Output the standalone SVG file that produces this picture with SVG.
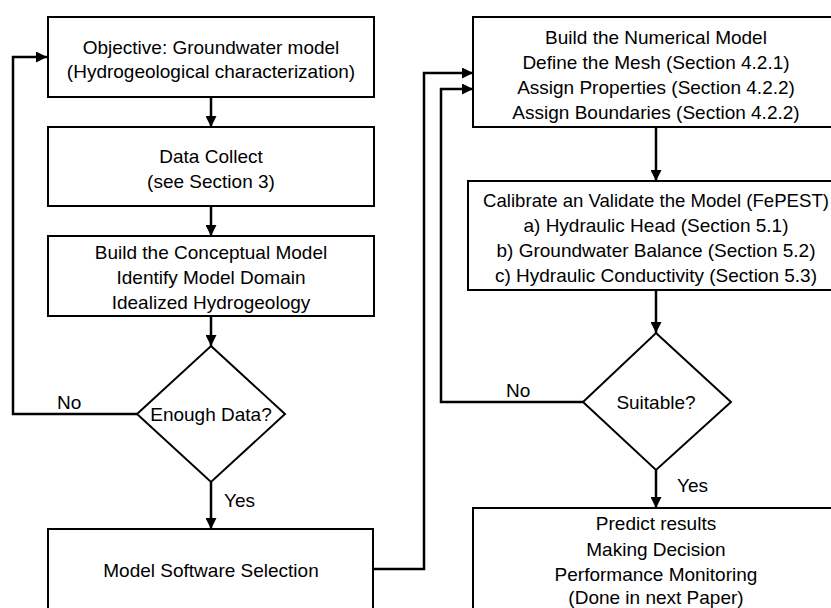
<svg xmlns="http://www.w3.org/2000/svg" width="831" height="608" viewBox="0 0 831 608">
<defs>
<marker id="ah" markerWidth="11" markerHeight="11" refX="11" refY="5.5" orient="auto" markerUnits="userSpaceOnUse">
<path d="M0,0 L11,5.5 L0,11 Z" fill="#000"/>
</marker>
<style>
.box{fill:#fff;stroke:#000;stroke-width:2}
.t{font-family:"Liberation Sans",Arial,sans-serif;font-size:19px;fill:#000;text-anchor:middle}
.lb{font-family:"Liberation Sans",Arial,sans-serif;font-size:19px;fill:#000}
.c{fill:none;stroke:#000;stroke-width:2.5}
</style>
</defs>
<rect width="831" height="608" fill="#fff"/>
<g id="connectors">
<path class="c" d="M211,97 V127" marker-end="url(#ah)"/>
<path class="c" d="M211,206 V236" marker-end="url(#ah)"/>
<path class="c" d="M211,316 V346" marker-end="url(#ah)"/>
<path class="c" d="M137,414 H13 V57 H47" marker-end="url(#ah)"/>
<path class="c" d="M211,482 V529" marker-end="url(#ah)"/>
<path class="c" d="M373,569 H424 V73 H473" marker-end="url(#ah)"/>
<path class="c" d="M656,127 V181" marker-end="url(#ah)"/>
<path class="c" d="M656,290 V333" marker-end="url(#ah)"/>
<path class="c" d="M583,402 H441 V89 H473" marker-end="url(#ah)"/>
<path class="c" d="M656,470 V508" marker-end="url(#ah)"/>
<text class="lb" x="57" y="409">No</text>
<text class="lb" x="224" y="507">Yes</text>
<text class="lb" x="506" y="397">No</text>
<text class="lb" x="677" y="492">Yes</text>
</g>
<g id="objective">
<rect class="box" x="48" y="17" width="326" height="80"/>
<text class="t" x="211" y="54">Objective: Groundwater model</text>
<text class="t" x="211" y="78">(Hydrogeological characterization)</text>
</g>
<g id="data-collect">
<rect class="box" x="48" y="127" width="326" height="79"/>
<text class="t" x="211" y="163">Data Collect</text>
<text class="t" x="211" y="188">(see Section 3)</text>
</g>
<g id="conceptual">
<rect class="box" x="48" y="236" width="326" height="80"/>
<text class="t" x="211" y="259">Build the Conceptual Model</text>
<text class="t" x="211" y="284">Identify Model Domain</text>
<text class="t" x="211" y="309">Idealized Hydrogeology</text>
</g>
<g id="enough-data">
<polygon class="box" points="211,346 285,414 211,482 137,414"/>
<text class="t" x="211" y="421">Enough Data?</text>
</g>
<g id="software">
<rect class="box" x="48" y="529" width="325" height="90"/>
<text class="t" x="211" y="577">Model Software Selection</text>
</g>
<g id="numerical">
<rect class="box" x="473" y="17" width="370" height="110"/>
<text class="t" x="656" y="44">Build the Numerical Model</text>
<text class="t" x="656" y="69">Define the Mesh (Section 4.2.1)</text>
<text class="t" x="656" y="94">Assign Properties (Section 4.2.2)</text>
<text class="t" x="656" y="119">Assign Boundaries (Section 4.2.2)</text>
</g>
<g id="calibrate">
<rect class="box" x="468" y="181" width="380" height="109"/>
<text class="t" x="656" y="207" style="font-size:18.6px">Calibrate an Validate the Model (FePEST)</text>
<text class="t" x="656" y="232">a) Hydraulic Head (Section 5.1)</text>
<text class="t" x="656" y="257">b) Groundwater Balance (Section 5.2)</text>
<text class="t" x="656" y="282">c) Hydraulic Conductivity (Section 5.3)</text>
</g>
<g id="suitable">
<polygon class="box" points="656,333 731,402 656,470 583,402"/>
<text class="t" x="656" y="409">Suitable?</text>
</g>
<g id="predict">
<rect class="box" x="473" y="508" width="370" height="110"/>
<text class="t" x="656" y="530">Predict results</text>
<text class="t" x="656" y="556">Making Decision</text>
<text class="t" x="656" y="581">Performance Monitoring</text>
<text class="t" x="656" y="604">(Done in next Paper)</text>
</g>
</svg>
